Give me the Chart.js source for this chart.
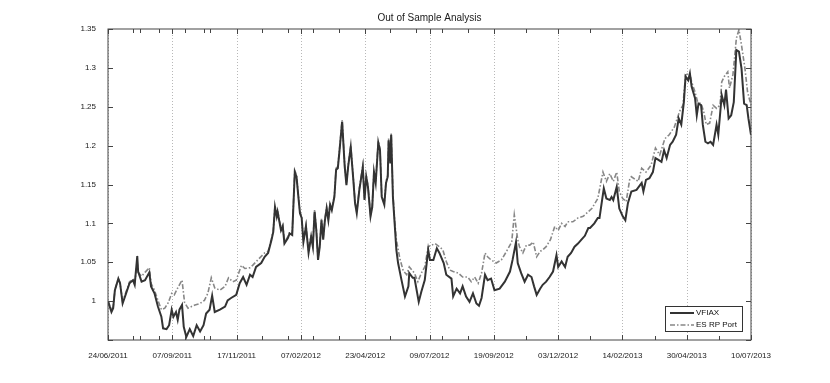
<!DOCTYPE html>
<html>
<head>
<meta charset="utf-8">
<script src="https://cdn.jsdelivr.net/npm/chart.js@4/dist/chart.umd.min.js"></script>
<style>
  html, body { margin: 0; padding: 0; background: #fff; }
</style>
</head>
<body>
<canvas id="chart-oos" width="830" height="383"></canvas>
<script>
// tick labels (evenly spaced positions on the x axis)
const xTickLabels = ['24/06/2011', '07/09/2011', '17/11/2011', '07/02/2012', '23/04/2012', '09/07/2012',
  '19/09/2012', '03/12/2012', '14/02/2013', '30/04/2013', '10/07/2013'];
const spanDays = 747;
// unlabelled small ticks along the top and bottom edges
const minorTickDays = [29, 37, 59, 89, 112, 119, 179, 209, 238, 268, 328, 358, 388, 418, 486, 560, 635, 710];
const yTickValues = [0.95, 1, 1.05, 1.1, 1.15, 1.2, 1.25, 1.3, 1.35];

// VFIAX - days since 24/06/2011 and value
const vfiaxDays = [0,4,6,8,12,14,17,21,25,29,31,34,35,39,43,48,50,54,58,62,64,68,71,74,76,79,81,83,86,88,
  91,95,99,103,107,111,114,118,121,124,130,136,139,143,149,153,157,161,165,168,172,178,182,186,190,192,194,196,197,201,
  203,205,209,211,214,217,219,221,223,225,227,230,233,236,238,240,242,244,246,248,250,252,254,256,258,260,263,265,267,269,
  272,275,277,279,282,285,287,289,292,296,298,300,302,305,307,309,311,314,316,318,321,323,325,326,328,329,331,333,335,337,
  341,345,349,350,354,356,361,364,368,372,374,378,382,385,390,393,399,401,405,409,412,416,420,424,428,431,434,438,441,445,
  449,455,461,467,470,474,476,480,484,488,492,495,498,502,505,509,513,517,521,523,527,531,534,538,542,546,550,554,558,560,
  565,569,571,576,579,583,585,587,591,594,598,601,604,608,614,620,622,625,629,633,636,639,643,646,649,653,656,660,663,666,
  669,671,674,676,678,682,684,686,689,691,694,697,700,703,707,709,713,716,718,721,724,727,730,733,736,739,742,744,747];
const vfiaxValues = [1.000,0.986,0.991,1.014,1.029,1.023,0.997,1.010,1.023,1.027,
  1.021,1.058,1.038,1.025,1.027,1.037,1.019,1.010,0.993,0.980,
  0.965,0.964,0.969,0.989,0.980,0.986,0.976,0.989,0.995,0.967,
  0.954,0.964,0.955,0.969,0.961,0.969,0.984,0.989,1.007,0.986,
  0.989,0.993,1.001,1.004,1.008,1.023,1.031,1.021,1.034,1.031,
  1.044,1.049,1.057,1.062,1.079,1.089,1.121,1.109,1.115,1.091,
  1.096,1.074,1.081,1.087,1.085,1.166,1.160,1.136,1.113,1.107,
  1.076,1.096,1.062,1.083,1.070,1.115,1.091,1.053,1.070,1.104,
  1.079,1.104,1.119,1.104,1.124,1.117,1.134,1.169,1.171,1.194,
  1.231,1.173,1.149,1.173,1.198,1.156,1.126,1.113,1.143,1.172,
  1.130,1.160,1.147,1.109,1.121,1.166,1.152,1.204,1.194,1.134,
  1.124,1.152,1.160,1.207,1.177,1.214,1.134,1.100,1.066,1.049,
  1.027,1.006,1.019,1.036,1.030,1.030,0.999,1.012,1.027,1.066,
  1.053,1.053,1.068,1.062,1.049,1.034,1.029,1.006,1.016,1.010,
  1.019,1.006,0.999,1.010,0.997,0.994,1.004,1.034,1.027,1.029,
  1.014,1.016,1.025,1.038,1.053,1.076,1.049,1.036,1.025,1.034,
  1.031,1.019,1.008,1.016,1.021,1.025,1.031,1.038,1.059,1.044,
  1.051,1.044,1.057,1.062,1.070,1.074,1.079,1.084,1.094,1.094,
  1.100,1.107,1.107,1.145,1.132,1.130,1.134,1.130,1.147,1.119,
  1.109,1.104,1.126,1.141,1.143,1.152,1.141,1.156,1.158,1.166,
  1.184,1.182,1.179,1.194,1.184,1.201,1.205,1.214,1.235,1.227,
  1.256,1.289,1.284,1.293,1.276,1.261,1.239,1.254,1.252,1.227,
  1.205,1.203,1.205,1.201,1.227,1.214,1.265,1.252,1.272,1.235,
  1.239,1.256,1.323,1.321,1.299,1.254,1.252,1.235,1.214];

// ES RP Port
const esrpDays = [0,4,6,8,12,14,17,21,25,29,31,34,35,39,43,48,50,54,58,62,66,70,74,77,81,86,89,93,97,101,
  107,112,116,120,124,130,136,140,145,149,155,159,165,168,174,182,186,
  190,192,194,196,197,201,203,205,209,211,214,217,219,221,223,225,227,230,233,236,238,240,242,244,246,248,
  250,252,254,256,258,260,263,265,267,269,272,275,277,279,282,285,287,289,292,296,298,300,302,305,307,309,
  311,314,316,318,321,323,325,326,328,329,331,333,
  335,339,343,347,350,356,360,364,368,372,376,380,385,389,393,397,401,407,412,418,
  422,426,430,434,438,441,445,451,457,463,469,472,476,478,482,486,490,494,498,502,
  505,509,514,519,523,527,531,534,540,546,552,558,562,569,575,579,583,587,591,594,
  598,602,606,608,616,620,625,631,636,641,647,652,658,664,668,671,676,678,682,685,
  689,692,695,699,703,707,711,713,716,720,722,726,730,733,736,740,743,747];
const esrpValues = [1.000,0.989,0.992,1.014,1.029,1.023,0.999,1.012,1.025,1.028,
  1.023,1.050,1.037,1.032,1.037,1.043,1.023,1.014,1.001,0.989,
  0.991,0.998,1.010,1.008,1.017,1.027,0.998,0.991,0.993,0.995,
  0.997,1.001,1.010,1.030,1.017,1.014,1.019,1.030,1.025,1.027,
  1.046,1.042,1.043,1.046,1.053,1.062,1.064,
  1.081,1.091,1.123,1.111,1.117,1.093,1.098,1.076,1.083,1.089,1.087,1.168,1.162,1.138,1.115,1.109,1.078,1.098,1.064,1.085,
  1.072,1.117,1.093,1.055,1.072,1.106,1.081,1.106,1.121,1.106,1.126,1.119,1.136,1.171,1.173,1.196,1.233,1.175,1.151,1.175,
  1.200,1.158,1.128,1.115,1.145,1.174,1.132,1.162,1.149,1.111,1.123,1.168,1.154,1.206,1.196,1.136,1.126,1.154,1.162,1.209,
  1.179,1.216,1.138,1.104,
  1.079,1.055,1.039,1.034,1.044,1.036,1.025,1.036,1.044,1.070,
  1.072,1.074,1.070,1.066,1.051,1.040,1.038,1.036,1.031,1.031,
  1.025,1.031,1.023,1.036,1.062,1.057,1.053,1.049,1.053,1.064,
  1.076,1.111,1.079,1.070,1.062,1.072,1.072,1.076,1.057,1.064,
  1.066,1.070,1.079,1.096,1.091,1.100,1.096,1.102,1.102,1.107,
  1.109,1.115,1.119,1.132,1.166,1.154,1.164,1.154,1.166,1.141,
  1.132,1.128,1.156,1.160,1.154,1.171,1.166,1.175,1.197,1.188,
  1.209,1.214,1.224,1.244,1.252,1.291,1.293,1.282,1.269,1.256,
  1.254,1.244,1.227,1.229,1.252,1.248,1.252,1.282,1.289,1.295,
  1.274,1.291,1.338,1.349,1.329,1.299,1.269,1.252];

const FONT = "'Liberation Sans', Arial, Helvetica, sans-serif";
const AXIS_COLOR = '#444';

const toPoints = (days, vals) => days.map((d, i) => ({ x: d, y: vals[i] }));

// matlab-ish frame: dotted vertical grid, box, inward ticks, legend in the corner
const matlabFrame = {
  id: 'matlabFrame',
  beforeDatasetsDraw(chart) {
    const { ctx, chartArea: a, scales: { x } } = chart;
    ctx.save();
    ctx.strokeStyle = '#b8b8b8';
    ctx.lineWidth = 1;
    ctx.setLineDash([1, 2]);
    x.ticks.forEach(t => {
      const px = Math.round(x.getPixelForValue(t.value)) + 0.5;
      ctx.beginPath();
      ctx.moveTo(px, a.top);
      ctx.lineTo(px, a.bottom);
      ctx.stroke();
    });
    ctx.restore();
  },
  afterDatasetsDraw(chart) {
    const { ctx, chartArea: a, scales: { x, y } } = chart;
    ctx.save();
    ctx.strokeStyle = AXIS_COLOR;
    ctx.lineWidth = 1;
    ctx.setLineDash([]);
    ctx.strokeRect(a.left, a.top, a.right - a.left, a.bottom - a.top);

    const tl = 5;
    ctx.beginPath();
    x.ticks.forEach(t => {
      const px = Math.round(x.getPixelForValue(t.value)) + 0.5;
      ctx.moveTo(px, a.bottom); ctx.lineTo(px, a.bottom - tl);
      ctx.moveTo(px, a.top); ctx.lineTo(px, a.top + tl);
    });
    minorTickDays.forEach(d => {
      const px = Math.round(x.getPixelForValue(d)) + 0.5;
      ctx.moveTo(px, a.bottom); ctx.lineTo(px, a.bottom - 4);
      ctx.moveTo(px, a.top); ctx.lineTo(px, a.top + 4);
    });
    y.ticks.forEach(t => {
      const py = Math.round(y.getPixelForValue(t.value)) + 0.5;
      ctx.moveTo(a.left, py); ctx.lineTo(a.left + tl, py);
      ctx.moveTo(a.right, py); ctx.lineTo(a.right - tl, py);
    });
    ctx.stroke();

    // legend box
    const w = 77, h = 25;
    const lx = a.right - 9 - w, ly = a.bottom - 9 - h;
    ctx.fillStyle = '#fff';
    ctx.fillRect(lx, ly, w, h);
    ctx.strokeStyle = '#333';
    ctx.strokeRect(lx + 0.5, ly + 0.5, w, h);
    ctx.font = '8px ' + FONT;
    ctx.textBaseline = 'middle';
    chart.data.datasets.forEach((ds, i) => {
      const cy = ly + 7 + i * 12;
      ctx.strokeStyle = ds.borderColor;
      ctx.lineWidth = ds.borderWidth;
      ctx.setLineDash(ds.borderDash || []);
      ctx.beginPath();
      ctx.moveTo(lx + 5, cy);
      ctx.lineTo(lx + 29, cy);
      ctx.stroke();
      ctx.setLineDash([]);
      ctx.fillStyle = '#111';
      ctx.fillText(ds.label, lx + 31, cy);
    });
    ctx.restore();
  }
};

new Chart(document.getElementById('chart-oos'), {
  type: 'line',
  data: {
    datasets: [
      { label: 'VFIAX', data: toPoints(vfiaxDays, vfiaxValues), borderColor: '#333333', borderWidth: 2,
        pointRadius: 0, tension: 0, fill: false },
      { label: 'ES RP Port', data: toPoints(esrpDays, esrpValues), borderColor: '#878787', borderWidth: 1.6,
        borderDash: [5, 2, 1.5, 2], pointRadius: 0, tension: 0, fill: false }
    ]
  },
  options: {
    responsive: false,
    animation: false,
    devicePixelRatio: 1,
    layout: { padding: { left: 0, right: 79, top: 0, bottom: 0 } },
    plugins: {
      legend: { display: false },
      tooltip: { enabled: false },
      title: {
        display: true,
        text: 'Out of Sample Analysis',
        fullSize: false,
        color: '#1a1a1a',
        font: { family: FONT, size: 10, weight: 'normal' },
        padding: { top: 12, bottom: 5 }
      }
    },
    scales: {
      x: {
        type: 'linear',
        min: 0,
        max: spanDays,
        grid: { display: false },
        border: { display: false },
        afterBuildTicks: s => { s.ticks = xTickLabels.map((_, i) => ({ value: i * spanDays / (xTickLabels.length - 1) })); },
        afterFit: s => { s.height = 43; },
        ticks: {
          autoSkip: false,
          maxRotation: 0,
          padding: 3,
          color: '#1a1a1a',
          font: { family: FONT, size: 8 },
          callback: (v, i) => xTickLabels[i]
        }
      },
      y: {
        min: 0.95,
        max: 1.35,
        grid: { display: false },
        border: { display: false },
        afterBuildTicks: s => { s.ticks = yTickValues.map(v => ({ value: v })); },
        afterFit: s => { s.width = 108; },
        ticks: {
          padding: 4,
          color: '#1a1a1a',
          font: { family: FONT, size: 8 },
          callback: v => (v < 0.97 ? '' : String(Math.round(v * 100) / 100))
        }
      }
    }
  },
  plugins: [matlabFrame]
});
</script>
</body>
</html>
